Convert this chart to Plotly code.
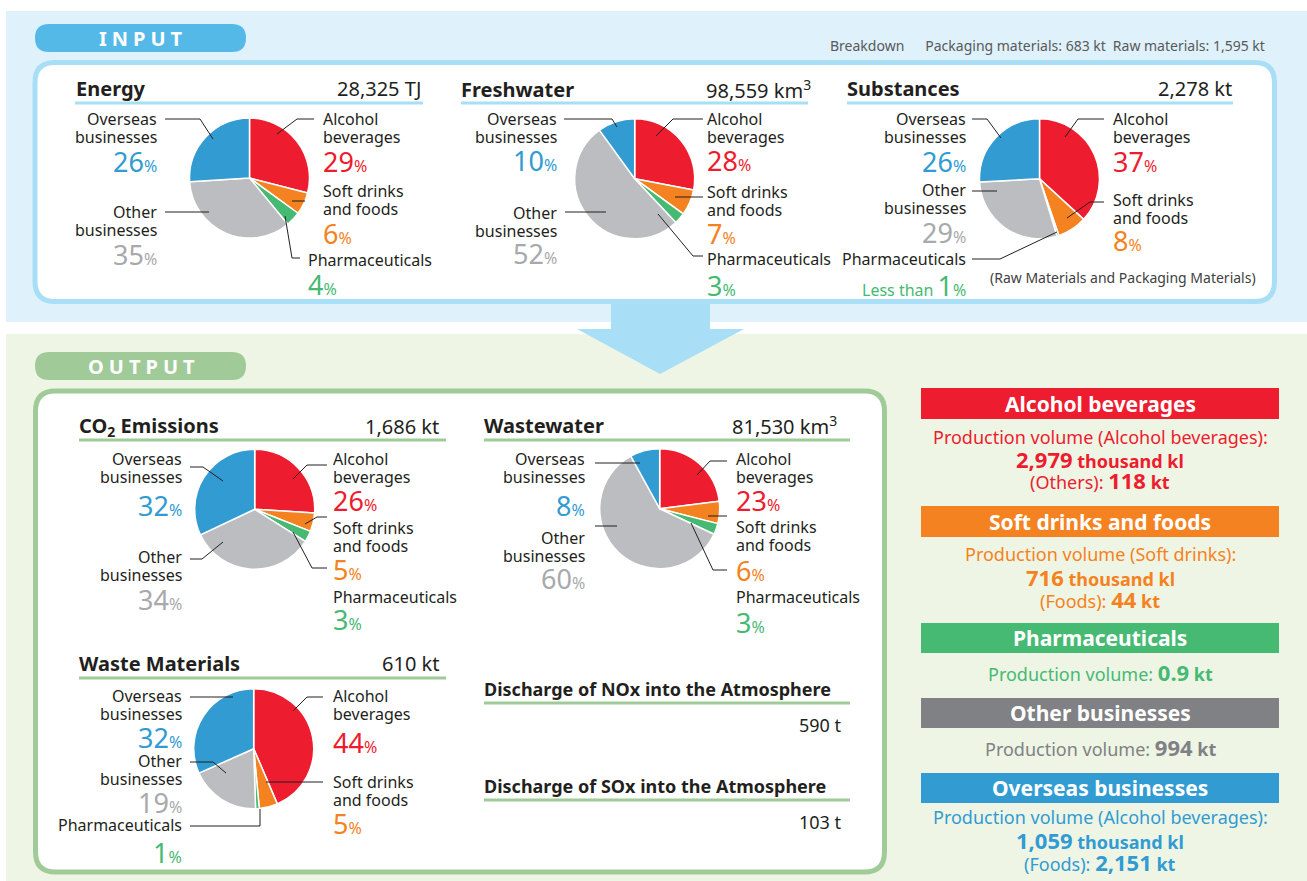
import plotly.graph_objects as go

W, H = 1307, 881
FONT = "Noto Sans"

# ---------------- data ----------------
categories = ["Alcohol beverages", "Soft drinks and foods", "Pharmaceuticals",
              "Other businesses", "Overseas businesses"]
label_lines = [["Alcohol", "beverages"], ["Soft drinks", "and foods"], ["Pharmaceuticals"],
               ["Other", "businesses"], ["Overseas", "businesses"]]

energy_pct = [29, 6, 4, 35, 26]
freshwater_pct = [28, 7, 3, 52, 10]
substances_pct = [37, 8, 0.5, 29, 26]   # pharmaceuticals: "less than 1"
co2_pct = [26, 5, 3, 34, 32]
wastewater_pct = [23, 6, 3, 60, 8]
waste_pct = [44, 5, 1, 19, 32]

chart_titles = ["Energy", "Freshwater", "Substances",
                "CO<sub>2</sub> Emissions", "Wastewater", "Waste Materials"]
chart_totals = ["28,325 TJ", "98,559 km<sup>3</sup>", "2,278 kt",
                "1,686 kt", "81,530 km<sup>3</sup>", "610 kt"]

discharge_titles = ["Discharge of NOx into the Atmosphere", "Discharge of SOx into the Atmosphere"]
discharge_values = ["590 t", "103 t"]

breakdown_text = "Breakdown    Packaging materials: 683 kt   Raw materials: 1,595 kt"
substances_note = "(Raw Materials and Packaging Materials)"

alcohol_prod = [("Production volume (Alcohol beverages):", "", ""), ("", "2,979", "thousand kl"), ("(Others): ", "118", "kt")]
soft_prod = [("Production volume (Soft drinks):", "", ""), ("", "716", "thousand kl"), ("(Foods): ", "44", "kt")]
pharma_prod = [("Production volume: ", "0.9", "kt")]
other_prod = [("Production volume: ", "994", "kt")]
overseas_prod = [("Production volume (Alcohol beverages):", "", ""), ("", "1,059", "thousand kl"), ("(Foods): ", "2,151", "kt")]
production = [alcohol_prod, soft_prod, pharma_prod, other_prod, overseas_prod]

# ---------------- styles ----------------
slice_colors = ["#ed1c2e", "#f58220", "#46b973", "#bcbdc0", "#319bd2"]
pct_colors = ["#ed1c2e", "#f58220", "#46b973", "#a7a9ac", "#319bd2"]
bar_colors = ["#ed1c2e", "#f58220", "#46b973", "#808184", "#319bd2"]
text_colors = ["#ed1c2e", "#f58220", "#46b973", "#808184", "#319bd2"]
DARK = "#231f20"
BLUE_LIGHT = "#a8dff7"
GREEN_LIGHT = "#a0cb98"

# ---------------- layout positions (pixels) ----------------
pies = [
    dict(vals=energy_pct, c=(249.5, 178), tx=76, rx=422, ty=88, ul=(75, 423, 103), uc=BLUE_LIGHT,
         lab=[("R", 322, 119, 161), ("R", 322, 191, 233), ("R", 307, 260, 284), ("L", 158, 212, 254), ("L", 158, 119, 161)],
         lead=[[(277, 134), (297, 119), (314, 119)], [(292, 201), (305, 201)], [(285, 216), (292, 258), (300, 258)],
               [(165, 212), (209, 212)], [(165, 119), (200, 119), (213, 139)]]),
    dict(vals=freshwater_pct, c=(634.7, 178.7), tx=461, rx=812, ty=89, ul=(461, 808, 103), uc=BLUE_LIGHT,
         lab=[("R", 706, 119, 160), ("R", 706, 192, 233), ("R", 706, 259, 285), ("L", 558, 213, 253), ("L", 558, 119, 160)],
         lead=[[(656, 136), (673, 119), (703, 119)], [(675, 197), (703, 197)], [(658, 214), (693, 256), (703, 256)],
               [(565, 212), (606, 212)], [(564, 119), (612, 119), (617, 127)]]),
    dict(vals=substances_pct, c=(1039.5, 178.8), tx=847, rx=1233, ty=88, ul=(847, 1233, 103), uc=BLUE_LIGHT,
         lab=[("R", 1112, 119, 161), ("R", 1112, 200, 240), ("L", 967, 259, 285), ("L", 967, 190, 232), ("L", 967, 119, 161)],
         lead=[[(1065, 137), (1078, 119), (1104, 119)], [(1067, 218), (1090, 202), (1104, 202)],
               [(972, 259), (1000, 259), (1057, 232)], [(972, 191), (997, 191)], [(972, 119), (987, 119), (1001, 138)]]),
    dict(vals=co2_pct, c=(254.7, 509.3), tx=79, rx=440, ty=426, ul=(79, 446, 440), uc=GREEN_LIGHT,
         lab=[("R", 332, 459, 500), ("R", 332, 528, 569), ("R", 332, 597, 619), ("L", 183, 557, 599), ("L", 183, 459, 505)],
         lead=[[(293, 479), (307, 465), (327, 465)], [(305, 524), (317, 517), (327, 517)],
               [(293, 532), (312, 568), (327, 568)], [(190, 559), (202, 559), (223, 542)], [(190, 467), (203, 467), (223, 481)]]),
    dict(vals=wastewater_pct, c=(659.7, 508.7), tx=484, rx=838, ty=425, ul=(484, 850, 440), uc=GREEN_LIGHT,
         lab=[("R", 735, 459, 500), ("R", 735, 527, 570), ("R", 735, 597, 622), ("L", 586, 538, 578), ("L", 586, 459, 505)],
         lead=[[(697, 475), (710, 461), (727, 461)], [(708, 516), (727, 516)], [(691, 523), (713, 570), (727, 570)],
               [(595, 526), (617, 526)], [(595, 463), (640, 463)]]),
    dict(vals=waste_pct, c=(253.7, 748.7), tx=79, rx=440, ty=663, ul=(79, 446, 678), uc=GREEN_LIGHT,
         lab=[("R", 332, 696, 742), ("R", 332, 782, 823), ("L", 183, 825, 852), ("L", 183, 761, 802), ("L", 183, 696, 737)],
         lead=[[(293, 711), (307, 697), (323, 697)], [(266, 782), (323, 782)], [(190, 826), (260, 826), (260, 809)],
               [(190, 762), (213, 762), (226, 773)], [(190, 697), (233, 697)]]),
]
R = 60

fig = go.Figure()
shapes = []
anns = []


def rrect(x0, y0, x1, y1, r):
    return (f"M{x0+r},{y0} L{x1-r},{y0} Q{x1},{y0} {x1},{y0+r} L{x1},{y1-r} Q{x1},{y1} {x1-r},{y1} "
            f"L{x0+r},{y1} Q{x0},{y1} {x0},{y1-r} L{x0},{y0+r} Q{x0},{y0} {x0+r},{y0} Z")


def add_path(d, fill=None, color=None, width=0, layer="below"):
    s = dict(type="path", path=d, xref="x", yref="y", layer=layer,
             line=dict(color=color or "rgba(0,0,0,0)", width=width))
    if fill:
        s["fillcolor"] = fill
    shapes.append(s)


def add_rect(x0, y0, x1, y1, fill, layer="below"):
    shapes.append(dict(type="rect", x0=x0, y0=y0, x1=x1, y1=y1, xref="x", yref="y",
                       fillcolor=fill, line=dict(width=0), layer=layer))


def add_line(pts, color=DARK, width=1, layer="above"):
    d = "M" + " L".join(f"{x},{y}" for x, y in pts)
    shapes.append(dict(type="path", path=d, xref="x", yref="y", layer=layer,
                       line=dict(color=color, width=width)))


def txt(x, y, s, size, color=DARK, anchor="left"):
    anns.append(dict(x=x, y=y, xref="x", yref="y", text=s, showarrow=False, xanchor=anchor,
                     yanchor="middle", font=dict(family=FONT, size=size, color=color), borderpad=0))


# backgrounds
add_rect(6, 11, W, 322, "#dff1fb")
add_rect(6, 334, W, H, "#eef5e5")
# arrow
add_path("M611,300 L710,300 L710,329 L744,329 L660,374 L577,329 L611,329 Z", fill=BLUE_LIGHT)
# pills
add_path(rrect(35, 24, 246, 52, 14), fill="#55b9e8")
add_path(rrect(35, 352, 246, 380, 14), fill=GREEN_LIGHT)
txt(141, 38.5, "<b>I\u2005N\u2005P\u2005U\u2005T</b>", 20, "white", "center")
txt(141, 366.5, "<b>O\u2005U\u2005T\u2005P\u2005U\u2005T</b>", 20, "white", "center")
# white boxes
add_path(rrect(35, 62.5, 1274.5, 301.5, 20), fill="white", color=BLUE_LIGHT, width=5)
add_path(rrect(35.5, 391, 884.5, 872, 20), fill="white", color=GREEN_LIGHT, width=5)

txt(1266, 45, breakdown_text.replace("    ", "\u2003\u2002").replace("   ", "\u2002"), 14, "#58595b", "right")

# pies
for i, p in enumerate(pies):
    cx, cy = p["c"]
    fig.add_trace(go.Pie(
        values=p["vals"], labels=categories, sort=False, direction="clockwise", rotation=0,
        marker=dict(colors=slice_colors, line=dict(color="white", width=1.5)),
        textinfo="none", hoverinfo="skip", showlegend=False,
        domain=dict(x=[(cx - R) / W, (cx + R) / W], y=[1 - (cy + R) / H, 1 - (cy - R) / H]),
    ))
    txt(p["tx"] - 1, p["ty"], f"<b>{chart_titles[i]}</b>", 20)
    txt(p["rx"], p["ty"], chart_totals[i], 20, anchor="right")
    x0, x1, uy = p["ul"]
    add_line([(x0, uy), (x1, uy)], color=p["uc"], width=3)
    for k, (side, lx, ly, py) in enumerate(p["lab"]):
        anchor = "left" if side == "R" else "right"
        for j, line in enumerate(label_lines[k]):
            txt(lx, ly + 17.5 * j, line, 16, DARK, anchor)
        v = p["vals"][k]
        if v < 1:
            s = ("<span style='font-size:16px'>Less than </span>1"
                 "<span style='font-size:16px'>%</span>")
        else:
            s = f"{v}<span style='font-size:16px'>%</span>"
        txt(lx, py, s, 27, pct_colors[k], anchor)
    for pts in p["lead"]:
        add_line(pts)

txt(1257, 277, substances_note, 14, "#414042", "right")

# NOx / SOx
for j, (t, v) in enumerate(zip(discharge_titles, discharge_values)):
    ty = 689 + 97 * j
    txt(483, ty, f"<b>{t}</b>", 18)
    add_line([(484, ty + 14), (850, ty + 14)], color=GREEN_LIGHT, width=3)
    txt(843, ty + 36, v, 18, DARK, "right")

# right-side legend panel
bars_y = [(388, 419), (506, 537), (623, 653), (698, 728), (773, 803)]
lines_y = [[437, 459, 480], [554, 577, 599], [672], [747], [817, 840, 862]]
for k in range(5):
    y0, y1 = bars_y[k]
    add_rect(921, y0, 1279, y1, bar_colors[k], layer="above")
    txt(1100, (y0 + y1) / 2, f"<b>{categories[k]}</b>", 21, "white", "center")
    for (pre, num, unit), ly in zip(production[k], lines_y[k]):
        if num:
            s = (f"<span style='font-size:18px'>{pre}</span><b>{num}</b>"
                 f"<b><span style='font-size:18px'> {unit}</span></b>")
            txt(1100, ly, s, 22, text_colors[k], "center")
        else:
            txt(1100, ly, pre, 18, text_colors[k], "center")

fig.update_layout(
    width=W, height=H, autosize=False,
    margin=dict(l=0, r=0, t=0, b=0, pad=0),
    paper_bgcolor="white", plot_bgcolor="white",
    xaxis=dict(range=[0, W], visible=False, fixedrange=True),
    yaxis=dict(range=[H, 0], visible=False, fixedrange=True),
    shapes=shapes, annotations=anns, showlegend=False,
)

fig.write_html("out.html", config={"displayModeBar": False},
               post_script="document.body.style.margin='0';document.body.style.overflow='hidden';")
